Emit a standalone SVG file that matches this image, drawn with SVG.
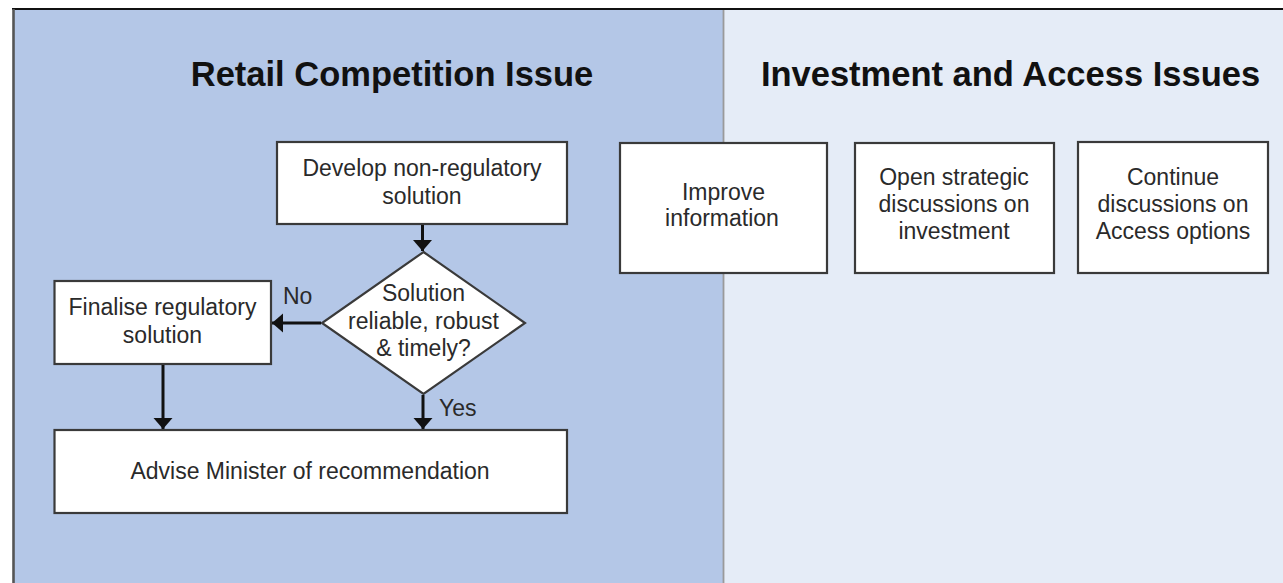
<svg xmlns="http://www.w3.org/2000/svg" width="1283" height="583" viewBox="0 0 1283 583">
  <style>
    .box { fill: #ffffff; stroke: #3a3a3a; stroke-width: 2.2; }
    .t { font-family: "Liberation Sans", Arial, sans-serif; font-size: 23px; fill: #2a2a2a; text-anchor: middle; }
    .lbl { font-family: "Liberation Sans", Arial, sans-serif; font-size: 23px; fill: #2a2a2a; }
    .title { font-family: "Liberation Sans", Arial, sans-serif; font-size: 34.5px; font-weight: bold; fill: #111111; text-anchor: middle; }
    .conn { stroke: #111111; stroke-width: 3; fill: none; marker-end: url(#arrow); }
  </style>
  <defs>
    <marker id="arrow" markerUnits="userSpaceOnUse" markerWidth="12" markerHeight="20" refX="11" refY="9.5" orient="auto">
      <path d="M0,0 L11,9.5 L0,19 Z" fill="#111111"/>
    </marker>
  </defs>

  <!-- panels -->
  <g id="panel-retail">
    <rect x="14" y="9" width="709" height="580" fill="#b4c7e7"/>
    <text class="title" x="392" y="86">Retail Competition Issue</text>
  </g>
  <g id="panel-investment">
    <rect x="723" y="9" width="560" height="580" fill="#e5ecf7"/>
    <text class="title" x="1010.5" y="86">Investment and Access Issues</text>
  </g>
  <g id="frame">
    <line x1="723.5" y1="10" x2="723.5" y2="583" stroke="#9a9a9a" stroke-width="1.8"/>
    <line x1="12" y1="9" x2="1283" y2="9" stroke="#111111" stroke-width="2"/>
    <line x1="13.5" y1="9" x2="13.5" y2="583" stroke="#555555" stroke-width="2.6"/>
  </g>

  <!-- nodes -->
  <g id="develop">
    <rect class="box" x="277" y="142" width="290" height="82"/>
    <text class="t" x="422" y="176">Develop non-regulatory</text>
    <text class="t" x="422" y="204">solution</text>
  </g>
  <g id="decision">
    <polygon class="box" points="423.5,252 525,323 423.5,394 322,323"/>
    <text class="t" x="423.5" y="301">Solution</text>
    <text class="t" x="423.5" y="328.5">reliable, robust</text>
    <text class="t" x="423.5" y="356">&amp; timely?</text>
  </g>
  <g id="finalise">
    <rect class="box" x="54.5" y="281" width="216.5" height="83"/>
    <text class="t" x="162.5" y="315">Finalise regulatory</text>
    <text class="t" x="162.5" y="343">solution</text>
  </g>
  <g id="advise">
    <rect class="box" x="54.5" y="430" width="512.5" height="83"/>
    <text class="t" x="310" y="479">Advise Minister of recommendation</text>
  </g>
  <g id="improve">
    <rect class="box" x="620" y="143" width="207" height="130"/>
    <text class="t" x="723.5" y="200">Improve</text>
    <text class="t" x="722" y="226">information</text>
  </g>
  <g id="strategic">
    <rect class="box" x="855" y="143" width="199" height="130"/>
    <text class="t" x="954" y="185">Open strategic</text>
    <text class="t" x="954" y="212">discussions on</text>
    <text class="t" x="954" y="239">investment</text>
  </g>
  <g id="access">
    <rect class="box" x="1078" y="142" width="190" height="131"/>
    <text class="t" x="1173" y="185">Continue</text>
    <text class="t" x="1173" y="212">discussions on</text>
    <text class="t" x="1173" y="239">Access options</text>
  </g>

  <!-- connectors -->
  <g id="connectors">
    <line class="conn" x1="422.5" y1="225" x2="422.5" y2="251"/>
    <line class="conn" x1="321" y1="323" x2="272" y2="323"/>
    <line class="conn" x1="163" y1="365" x2="163" y2="429"/>
    <line class="conn" x1="423" y1="395" x2="423" y2="429"/>
    <text class="lbl" x="283" y="304">No</text>
    <text class="lbl" x="439" y="416">Yes</text>
  </g>
</svg>
